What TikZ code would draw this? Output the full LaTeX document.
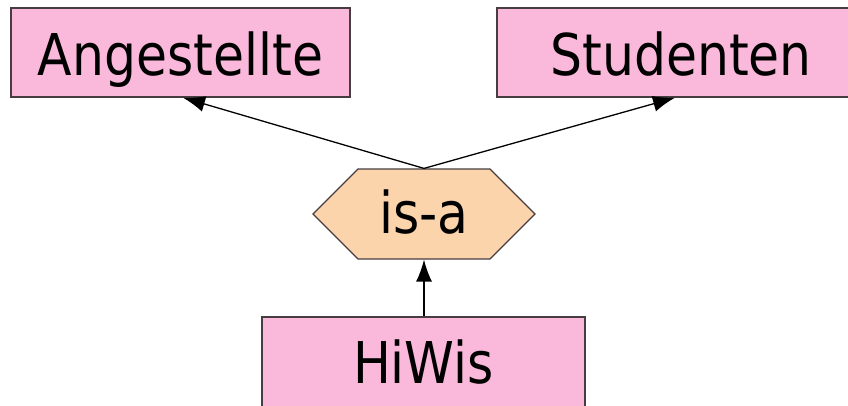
\documentclass[tikz,border=0pt]{standalone}
\usepackage{fontspec}
\setmainfont{DejaVu Sans}
\usepackage{graphicx}
\usetikzlibrary{arrows.meta,shapes.symbols}
\definecolor{entitypink}{RGB}{250,184,218}
\definecolor{relpeach}{RGB}{252,212,172}
\definecolor{borderline}{RGB}{70,60,65}
\newcommand{\erfont}[1]{\fontsize{57.6}{60}\selectfont\scalebox{0.875}[1]{#1}}
\tikzset{entity/.style = {draw=borderline, line width=1.4pt, fill=entitypink, rectangle, inner sep=0pt, minimum height=89pt, text height=45pt, text depth=0pt}}
\tikzset{isa/.style = {draw=borderline, line width=1.2pt, fill=relpeach, signal, signal to=east and west, signal pointer angle=90, inner sep=0pt, minimum width=222pt, minimum height=90pt, text height=38pt, text depth=0pt}}
\tikzset{link/.style = {-{Latex[length=22pt,width=16pt]}, line width=1.3pt}}

\begin{document}
\begin{tikzpicture}[x=1pt, y=-1pt]
  \useasboundingbox (0,0) rectangle (848,405);
  \node [entity, minimum width=339pt] (ang) at (180.5,52.5) {\erfont{Angestellte}};
  \node [entity, minimum width=368pt] (stu) at (681,52.5) {\erfont{Studenten}};
  \node [isa] (rel) at (424,214) {\erfont{is-a}};
  \node [entity, minimum width=323pt, minimum height=110pt, text height=22pt] (hiwi) at (423.5,372) {\erfont{HiWis}};
  \draw [link] (rel.north) -- ([xshift=2.5pt]ang.south);
  \draw [link] (rel.north) -- ([xshift=-6pt]stu.south);
  \draw [link] (hiwi.north -| rel.south) -- (rel.south);
\end{tikzpicture}
\end{document}
